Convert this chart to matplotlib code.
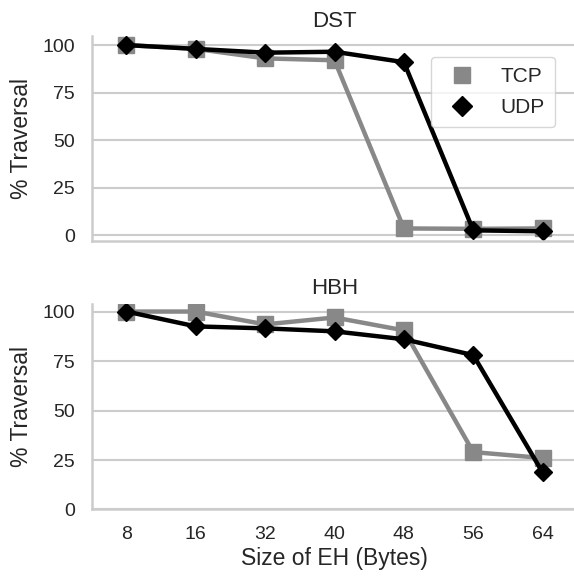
import numpy as np
import matplotlib as mpl
mpl.use("Agg")
from matplotlib import pyplot as plt
import seaborn as sns

sns.set_style("whitegrid")
mpl.rcParams['font.family'] = ['Liberation Sans', 'DejaVu Sans']
mpl.rcParams['xtick.labelsize'] = 14
mpl.rcParams['ytick.labelsize'] = 14
mpl.rcParams['axes.labelsize'] = 16.5
mpl.rcParams['axes.titlesize'] = 16
mpl.rcParams['legend.fontsize'] = 15

# EH sizes (categorical x axis)
sizes = ["8", "16", "32", "40", "48", "56", "64"]
yticks = [0, 25, 50, 75, 100]

# DST panel
dst_tcp = [100, 98, 93, 92, 3.5, 3.3, 3.5]
dst_udp = [100, 98, 96, 96.5, 91, 2.5, 2]

# HBH panel
hbh_tcp = [100, 100, 93.5, 97, 90.5, 29, 26]
hbh_udp = [100, 92.5, 91.5, 90, 86, 78, 18.7]

fig = plt.figure(figsize=(5.74, 5.77), dpi=100)
ax1 = fig.add_axes([0.1598, 0.583, 0.846, 0.355])
ax2 = fig.add_axes([0.1598, 0.117, 0.846, 0.357])

x = np.arange(len(sizes))
gray = "#888888"

def draw(ax, tcp, udp, title):
    ax.plot(x, tcp, "-s", color=gray, lw=3.2, ms=11, mec=gray, label="TCP")
    ax.plot(x, udp, "-D", color="black", lw=3.2, ms=9.5, mec="black", label="UDP")
    ax.set_title(title, pad=6.5, color=".15")
    ax.set_ylabel("% Traversal", color=".15", labelpad=7)
    ax.set_yticks(yticks)
    ax.set_xticks(x)
    ax.set_xlim(-0.5, len(sizes) - 0.5)
    ax.xaxis.grid(False)
    ax.yaxis.grid(True, color=".8", lw=1.5)
    for s in ["top", "right"]:
        ax.spines[s].set_visible(False)
    for s in ["left", "bottom"]:
        ax.spines[s].set_color(".8")
        ax.spines[s].set_linewidth(1.8)
    ax.tick_params(length=0, pad=12, colors=".15")

draw(ax1, dst_tcp, dst_udp, "DST")
draw(ax2, hbh_tcp, hbh_udp, "HBH")
ax1.set_xticklabels([])
ax2.set_xticklabels(sizes)
ax2.set_ylim(bottom=0)
ax2.set_xlabel("Size of EH (Bytes)", color=".15", labelpad=3)

h, l = ax1.get_legend_handles_labels()
leg = ax1.legend([plt.Line2D([], [], ls="", marker="s", color=gray, ms=12),
                  plt.Line2D([], [], ls="", marker="D", color="black", ms=10.5)],
                 l, loc="upper right", bbox_to_anchor=(555 / 574, 1 - 57 / 577),
                 bbox_transform=fig.transFigure, borderaxespad=0,
                 handletextpad=0.85, labelspacing=0.55, borderpad=0.5,
                 frameon=True)
leg.get_frame().set_edgecolor(".8")
for t in leg.get_texts():
    t.set_color(".15")

fig.savefig("out.png", dpi=100)
